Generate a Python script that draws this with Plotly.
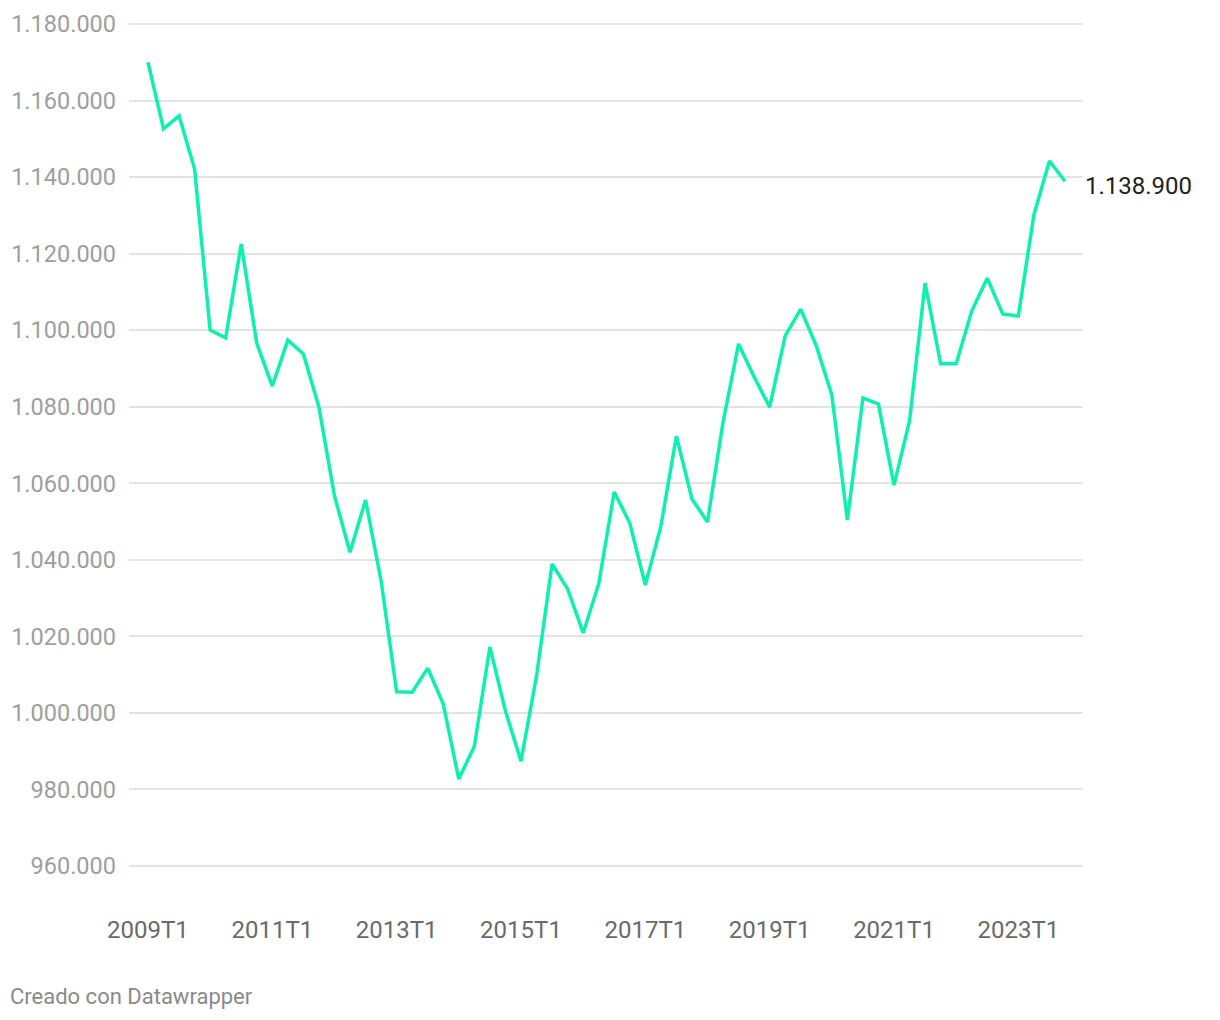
import plotly.graph_objects as go

quarters = [f"{y}T{q}" for y in range(2009, 2024) for q in range(1, 5)]
values = [
    1170000, 1152600, 1156000, 1142100, 1100000, 1098000, 1122500, 1096600,
    1085400, 1097400, 1093800, 1079900, 1056700, 1042000, 1055600, 1034500,
    1005500, 1005400, 1011700, 1002300, 982700, 991300, 1017200, 1000500,
    987400, 1009600, 1038900, 1032400, 1020900, 1033700, 1057700, 1049600,
    1033400, 1048800, 1072300, 1055900, 1049900, 1076000, 1096400, 1087800,
    1079900, 1098500, 1105500, 1095900, 1083100, 1050400, 1082300, 1080700,
    1059500, 1076300, 1112300, 1091200, 1091200, 1105000, 1113600, 1104200,
    1103700, 1130100, 1144200, 1138900,
]
x_ticks = ["2009T1", "2011T1", "2013T1", "2015T1", "2017T1", "2019T1", "2021T1", "2023T1"]
y_ticks = [960000, 980000, 1000000, 1020000, 1040000, 1060000, 1080000,
           1100000, 1120000, 1140000, 1160000, 1180000]
end_label = "1.138.900"
credit = "Creado con Datawrapper"

FONT = "Roboto"
LINE = "#0ef0b0"

# the page adds an 8px body margin, so figure coords = screenshot coords - 8
L, T, PW, PH = 121, 12, 954, 850

fig = go.Figure()
fig.add_trace(go.Scatter(
    x=quarters, y=values, mode="lines",
    line=dict(color=LINE, width=3.5),
    hoverinfo="x+y",
))

fig.add_annotation(
    x=quarters[-1], y=values[-1], text=end_label, showarrow=False,
    xanchor="left", yanchor="middle", xshift=18, yshift=-5,
    font=dict(family=FONT, size=24, color="#222222"),
)
fig.add_annotation(
    xref="paper", yref="paper", x=(0 - L) / PW, y=(T + PH - 988) / PH,
    text=credit, showarrow=False, xanchor="left", yanchor="middle",
    font=dict(family=FONT, size=22, color="#8a8a8a"),
)

px_per_unit = 842 / 220000
fig.update_layout(
    width=1220, height=1020,
    margin=dict(l=L, r=1220 - L - PW, t=T, b=1020 - T - PH),
    paper_bgcolor="white", plot_bgcolor="white",
    separators=",.",
    showlegend=False,
    font=dict(family=FONT),
    xaxis=dict(
        type="category",
        range=[-1.22, 60.16],
        tickmode="array", tickvals=x_ticks, ticktext=x_ticks,
        showgrid=False, zeroline=False, showline=False, ticks="",
        tickfont=dict(family=FONT, size=24, color="#6a6a6a"),
        ticklabelstandoff=43, automargin=False,
    ),
    yaxis=dict(
        range=[960000 - 4 / px_per_unit, 1180000 + 4 / px_per_unit],
        tickmode="array", tickvals=y_ticks, tickformat=",d",
        showgrid=True, gridcolor="#e3e3e3", gridwidth=1.5,
        zeroline=False, showline=False, ticks="",
        tickfont=dict(family=FONT, size=23.5, color="#9e9e9e"),
        ticklabelstandoff=12, automargin=False,
    ),
)

fig.write_html("out.html")
